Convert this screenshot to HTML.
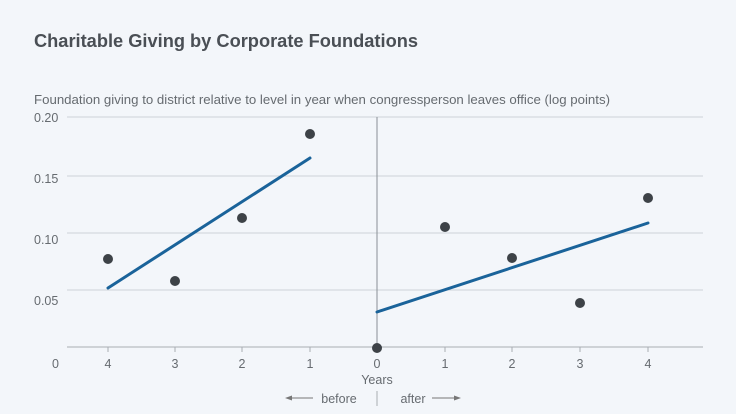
<!DOCTYPE html>
<html><head><style>
body{margin:0;background:#f3f6fa;}
svg{display:block;font-family:"Liberation Sans",sans-serif;}
</style></head><body>
<svg width="736" height="414" viewBox="0 0 736 414">
<rect width="736" height="414" fill="#f3f6fa"/>
<text x="34" y="47" font-size="18.5" font-weight="bold" fill="#4a4f55" textLength="384" lengthAdjust="spacingAndGlyphs">Charitable Giving by Corporate Foundations</text>
<text x="34" y="104" font-size="12.5" fill="#666b70" textLength="576" lengthAdjust="spacingAndGlyphs">Foundation giving to district relative to level in year when congressperson leaves office (log points)</text>
<g stroke="#cdd2d8" stroke-width="1">
<line x1="67" y1="117" x2="703" y2="117"/>
<line x1="67" y1="176" x2="703" y2="176"/>
<line x1="67" y1="233" x2="703" y2="233"/>
<line x1="67" y1="290" x2="703" y2="290"/>
</g>
<line x1="67" y1="347" x2="703" y2="347" stroke="#a8adb3"/>
<line x1="377" y1="117" x2="377" y2="347" stroke="#8a8f95"/>
<g font-size="12.5" fill="#666b70">
<text x="34" y="122">0.20</text>
<text x="34" y="183">0.15</text>
<text x="34" y="244">0.10</text>
<text x="34" y="305">0.05</text>
<text x="52" y="368">0</text>
</g>
<g stroke="#a8adb3">
<line x1="108" y1="347" x2="108" y2="352"/><line x1="175" y1="347" x2="175" y2="352"/>
<line x1="242" y1="347" x2="242" y2="352"/><line x1="310" y1="347" x2="310" y2="352"/>
<line x1="445" y1="347" x2="445" y2="352"/><line x1="512" y1="347" x2="512" y2="352"/>
<line x1="580" y1="347" x2="580" y2="352"/><line x1="648" y1="347" x2="648" y2="352"/>
</g>
<g font-size="12.5" fill="#666b70" text-anchor="middle">
<text x="108" y="368">4</text><text x="175" y="368">3</text><text x="242" y="368">2</text><text x="310" y="368">1</text>
<text x="377" y="368">0</text><text x="445" y="368">1</text><text x="512" y="368">2</text><text x="580" y="368">3</text><text x="648" y="368">4</text>
<text x="377" y="384">Years</text>
<text x="339" y="403">before</text>
<text x="413" y="403">after</text>
<text x="440" y="424">leaves office</text>
</g>
<line x1="377" y1="391" x2="377" y2="406" stroke="#a8adb3"/>
<g stroke="#777" stroke-width="1">
<line x1="288" y1="398" x2="313" y2="398"/><line x1="432" y1="398" x2="457" y2="398"/>
</g>
<polygon points="285,398 292,395.5 292,400.5" fill="#777"/>
<polygon points="461,398 454,395.5 454,400.5" fill="#777"/>
<g stroke="#1a639a" stroke-width="3" stroke-linecap="round">
<line x1="108" y1="288" x2="310" y2="158"/>
<line x1="377" y1="312" x2="648" y2="223"/>
</g>
<g fill="#3d4247">
<circle cx="108" cy="259" r="5"/><circle cx="175" cy="281" r="5"/><circle cx="242" cy="218" r="5"/>
<circle cx="310" cy="134" r="5"/><circle cx="377" cy="348" r="5"/><circle cx="445" cy="227" r="5"/>
<circle cx="512" cy="258" r="5"/><circle cx="580" cy="303" r="5"/><circle cx="648" cy="198" r="5"/>
</g>
</svg>
</body></html>
